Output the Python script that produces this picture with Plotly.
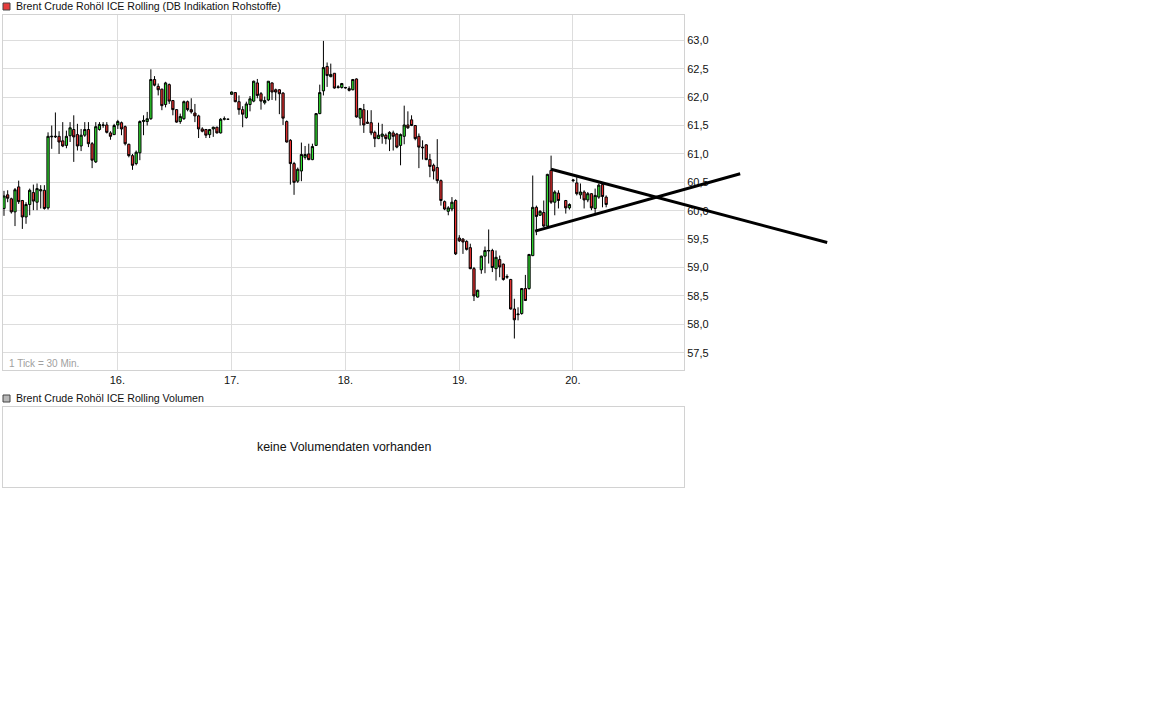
import plotly.graph_objects as go

# Brent Crude, 30-Minuten-Kerzen (ein Slot = ein Tick, None = kein Handel)
opens = [60.04, 60.28, 60.21, 59.98, 60.42, 60.18, 59.89, 60.11, 60.32, 60.15,
         60.35, 60.36, 60.05, 61.30, 61.30, 61.31, 61.23, 61.15, 61.32, 61.43,
         61.34, 61.14, 61.33, 61.43, 61.18, 60.86, 61.43, 61.50, 61.51, 61.37,
         61.34, 61.51, 61.55, 61.48, 61.17, 60.97, 60.83, 61.02, 61.57, 61.57,
         61.62, 62.31, 62.19, 62.14, 61.87, 62.22, 61.94, 61.78, 61.57, 61.62,
         61.92, 61.78, 61.72, 61.67, 61.44, 61.43, 61.34, 61.44, 61.47, 61.37,
         61.61, 61.61, 62.05, 62.08, 61.92, 61.78, 61.64, 61.87, 61.93, 62.25,
         62.06, 61.90, 61.95, 62.25, 62.13, 62.13, 62.07, 61.57, 61.24, 60.83,
         60.52, 60.70, 60.94, 61.00, 60.90, 61.15, 61.71, 62.11, 62.54, 62.36,
         62.42, 62.17, 62.17, 62.16, 62.15, 62.13, 62.32, 61.63, 61.78, 61.56,
         61.55, 61.38, 61.27, 61.31, 61.33, 61.26, 61.37, 61.35, 61.15, 61.31,
         61.51, 61.60, 61.50, 61.31, 61.12, 61.16, 60.90, 60.80, 60.76, 60.53,
         60.16, 59.99, 60.03, 60.18, 59.52, 59.50, 59.46, 59.35, 58.98, 58.48,
         58.96, 59.20, 59.29, 59.30, 58.98, 59.14, 59.06, 58.83, 58.79, 58.27,
         58.17, 58.19, 58.63, 58.63, 59.21, 60.06, 59.92, 59.97, 59.73, 60.71,
         60.15, 60.31, None, 60.18, 60.05, 60.53, 60.49, 60.28, 60.33, 60.19,
         60.30, 60.04, 60.24, 60.46, 60.24]
highs = [60.35, 60.36, 60.23, 60.40, 60.53, 60.19, 60.15, 60.39, 60.46, 60.48,
         60.45, 60.45, 61.38, 61.50, 61.73, 61.40, 61.56, 61.41, 61.56, 61.68,
         61.53, 61.44, 61.56, 61.56, 61.21, 61.56, 61.56, 61.56, 61.56, 61.40,
         61.53, 61.60, 61.57, 61.50, 61.18, 61.00, 61.06, 61.59, 61.68, 61.74,
         62.49, 62.37, 62.24, 62.15, 62.27, 62.24, 61.95, 61.79, 61.71, 61.94,
         61.94, 61.98, 61.88, 61.69, 61.47, 61.44, 61.44, 61.48, 61.48, 61.63,
         61.66, 61.62, 62.10, 62.09, 62.03, 61.84, 61.92, 62.02, 62.29, 62.32,
         62.09, 62.01, 62.28, 62.26, 62.15, 62.14, 62.09, 61.59, 61.26, 60.86,
         60.76, 61.20, 61.14, 61.18, 61.18, 61.72, 62.22, 62.99, 62.61, 62.59,
         62.42, 62.21, 62.25, 62.18, 62.19, 62.32, 62.33, 61.81, 61.88, 61.77,
         61.77, 61.41, 61.55, 61.53, 61.36, 61.40, 61.41, 61.37, 61.36, 61.85,
         61.75, 61.68, 61.51, 61.36, 61.24, 61.17, 61.00, 60.83, 61.26, 60.55,
         60.18, 60.08, 60.24, 60.20, 59.57, 59.52, 59.48, 59.42, 59.01, 58.61,
         59.21, 59.37, 59.67, 59.33, 59.30, 59.21, 59.07, 58.88, 58.80, 58.45,
         58.30, 58.64, 58.87, 59.24, 60.62, 60.09, 60.01, 60.18, 60.65, 60.97,
         60.36, 60.36, None, 60.19, 60.13, 60.56, 60.59, 60.48, 60.36, 60.33,
         60.31, 60.39, 60.48, 60.48, 60.27]
lows = [59.91, 60.15, 59.95, 59.73, 60.12, 59.68, 59.77, 59.92, 60.01, 60.01,
        60.04, 60.02, 60.02, 61.09, 61.28, 61.00, 61.12, 61.10, 61.21, 60.86,
        61.06, 61.05, 61.30, 61.12, 60.75, 60.84, 61.41, 61.46, 61.36, 61.25,
        61.34, 61.44, 61.33, 61.15, 60.94, 60.72, 60.80, 60.89, 61.33, 61.50,
        61.60, 62.19, 62.03, 61.77, 61.82, 61.88, 61.68, 61.55, 61.53, 61.60,
        61.75, 61.71, 61.56, 61.28, 61.38, 61.28, 61.28, 61.30, 61.36, 61.36,
        61.59, 61.60, 62.04, 61.91, 61.69, 61.47, 61.62, 61.75, 61.91, 61.98,
        61.78, 61.87, 61.93, 61.95, 61.94, 61.70, 61.51, 61.20, 60.46, 60.28,
        60.49, 60.52, 60.90, 60.89, 60.89, 61.14, 61.70, 62.03, 62.18, 62.35,
        62.15, 62.15, 62.15, 62.15, 62.10, 62.12, 61.64, 61.50, 61.37, 61.53,
        61.33, 61.12, 61.26, 61.18, 61.17, 61.05, 61.06, 61.10, 60.80, 61.17,
        61.44, 61.49, 61.24, 60.75, 60.90, 60.89, 60.59, 60.55, 60.48, 60.09,
        60.01, 59.92, 59.99, 59.22, 59.45, 59.24, 59.30, 58.97, 58.41, 58.47,
        58.89, 58.90, 59.07, 58.92, 58.77, 58.83, 58.77, 58.80, 58.26, 57.75,
        58.07, 58.17, 58.41, 58.61, 59.20, 59.57, 59.91, 59.71, 59.71, 60.12,
        59.92, 60.04, None, 59.95, 60.02, 60.50, 60.27, 60.21, 60.04, 60.15,
        60.01, 59.92, 60.21, 60.06, 60.06]
closes = [60.26, 60.22, 59.98, 60.37, 60.16, 59.89, 60.11, 60.36, 60.17, 60.39,
          60.37, 60.04, 61.31, 61.31, 61.31, 61.21, 61.14, 61.31, 61.46, 61.30,
          61.14, 61.33, 61.43, 61.18, 60.89, 61.48, 61.52, 61.51, 61.38, 61.31,
          61.50, 61.57, 61.44, 61.18, 60.97, 60.80, 61.03, 61.57, 61.59, 61.62,
          62.31, 62.21, 62.13, 61.85, 62.25, 61.93, 61.78, 61.56, 61.66, 61.92,
          61.78, 61.74, 61.67, 61.44, 61.40, 61.33, 61.43, 61.47, 61.37, 61.61,
          61.62, 61.61, 62.09, 61.92, 61.78, 61.70, 61.88, 61.97, 62.28, 62.03,
          61.93, 61.94, 62.28, 62.09, 62.09, 62.06, 61.63, 61.21, 60.83, 60.50,
          60.73, 60.99, 60.99, 60.90, 61.13, 61.71, 62.08, 62.52, 62.38, 62.40,
          62.16, 62.18, 62.24, 62.17, 62.12, 62.31, 61.65, 61.80, 61.51, 61.54,
          61.37, 61.27, 61.33, 61.35, 61.27, 61.38, 61.31, 61.12, 61.34, 61.51,
          61.46, 61.50, 61.27, 61.12, 61.11, 60.90, 60.78, 60.70, 60.53, 60.18,
          60.03, 60.05, 60.15, 59.24, 59.47, 59.45, 59.32, 58.98, 58.50, 58.60,
          59.20, 59.30, 59.30, 59.00, 59.18, 59.01, 58.79, 58.84, 58.27, 58.08,
          58.18, 58.63, 58.42, 59.23, 60.06, 59.90, 59.99, 59.73, 60.64, 60.15,
          60.33, 60.18, None, 60.05, 60.11, 60.54, 60.30, 60.33, 60.19, 60.30,
          60.05, 60.27, 60.45, 60.25, 60.11]
ticks = list(range(len(opens)))

# Tagesbeginn (in Ticks) und Beschriftung
day_pos = [30.86, 62.03, 92.97, 124.13, 154.92]
day_labels = ["16.", "17.", "18.", "19.", "20."]

# eingezeichnete Trendlinien (Tick, Kurs)
trend_a_x = [149.0, 224.2]
trend_a_y = [60.73, 59.44]
trend_b_x = [144.65, 200.5]
trend_b_y = [59.64, 60.65]

x_range = [-0.27, 185.2]
y_range = [57.196, 63.446]

# Seite / Raender in Pixeln
W, H = 1152, 720
ML, MR, MT, MB = 3, 312, 15, 233


def px(x):
    return (x - ML) / (W - ML - MR)


def py(y):
    return (H - MB - y) / (H - MT - MB)


FONT = "Liberation Sans, Arial, sans-serif"
GRID = "#dddddd"
BORDER = "#d2d2d2"

fig = go.Figure()

fig.add_trace(go.Candlestick(
    x=ticks, open=opens, high=highs, low=lows, close=closes,
    xaxis="x", yaxis="y",
    increasing=dict(line=dict(color="black", width=1), fillcolor="#30e030"),
    decreasing=dict(line=dict(color="black", width=1), fillcolor="#ea3030"),
    showlegend=False,
))

# Trendlinien auf einer breiteren Achse, damit sie ueber den Rand laufen
for tx, ty in [(trend_a_x, trend_a_y), (trend_b_x, trend_b_y)]:
    fig.add_trace(go.Scatter(x=tx, y=ty, mode="lines", xaxis="x2", yaxis="y3",
                             line=dict(color="black", width=3),
                             showlegend=False, hoverinfo="skip"))

# leeres Volumen-Panel
fig.add_trace(go.Scatter(x=[], y=[], xaxis="x3", yaxis="y4", showlegend=False))

main_right = px(684)
x2_hi = x_range[0] + (x_range[1] - x_range[0]) / main_right

fig.update_layout(
    width=W, height=H,
    margin=dict(l=ML, r=MR, t=MT, b=MB),
    paper_bgcolor="white",
    plot_bgcolor="rgba(0,0,0,0)",
    separators=",.",
    boxgap=0.12,
    font=dict(family=FONT, size=11, color="#111"),
    showlegend=False,
    xaxis=dict(domain=[0, main_right], range=x_range, anchor="y",
               tickvals=day_pos, ticktext=day_labels, ticks="",
               showgrid=True, gridcolor=GRID, gridwidth=1, zeroline=False,
               showline=True, mirror=True, linecolor=BORDER, linewidth=1,
               rangeslider=dict(visible=False),
               tickfont=dict(family=FONT, size=11, color="#111")),
    yaxis=dict(domain=[py(370), 1], range=y_range, anchor="x", side="right",
               tick0=57.5, dtick=0.5, tickformat=".1f", ticks="",
               showgrid=True, gridcolor=GRID, gridwidth=1, zeroline=False,
               showline=True, mirror=True, linecolor=BORDER, linewidth=1,
               tickfont=dict(family=FONT, size=11, color="#111")),
    xaxis2=dict(domain=[0, 1], range=[x_range[0], x2_hi], anchor="y3",
                visible=False, fixedrange=True),
    yaxis3=dict(domain=[py(370), 1], range=y_range, anchor="x2",
                visible=False, fixedrange=True),
    xaxis3=dict(domain=[0, main_right], range=[0, 1], anchor="y4",
                showline=True, mirror=True, linecolor=BORDER, linewidth=1,
                showgrid=False, zeroline=False, showticklabels=False, ticks=""),
    yaxis4=dict(domain=[0, py(407)], range=[0, 1], anchor="x3",
                showline=True, mirror=True, linecolor=BORDER, linewidth=1,
                showgrid=False, zeroline=False, showticklabels=False, ticks=""),
    shapes=[
        dict(type="rect", xref="paper", yref="paper",
             x0=px(3), x1=px(10), y0=py(10), y1=py(3),
             fillcolor="#e63c3c", line=dict(color="#444", width=1)),
        dict(type="rect", xref="paper", yref="paper",
             x0=px(3), x1=px(10), y0=py(402), y1=py(395),
             fillcolor="#b8b8b8", line=dict(color="#444", width=1)),
    ],
    annotations=[
        dict(text="Brent Crude Rohöl ICE Rolling (DB Indikation Rohstoffe)",
             xref="paper", yref="paper", x=px(14), y=py(6.5),
             xanchor="left", yanchor="middle", showarrow=False,
             font=dict(family=FONT, size=10.6, color="#111")),
        dict(text="1 Tick = 30 Min.", xref="paper", yref="paper",
             x=px(7), y=py(364), xanchor="left", yanchor="middle",
             showarrow=False, font=dict(family=FONT, size=10, color="#a0a0a0")),
        dict(text="Brent Crude Rohöl ICE Rolling Volumen",
             xref="paper", yref="paper", x=px(14), y=py(398),
             xanchor="left", yanchor="middle", showarrow=False,
             font=dict(family=FONT, size=10.6, color="#111")),
        dict(text="keine Volumendaten vorhanden", xref="paper", yref="paper",
             x=px(344), y=py(447), xanchor="center", yanchor="middle",
             showarrow=False, font=dict(family=FONT, size=12.4, color="#111")),
    ],
)

# Browser-Standardrand (8px) entfernen, damit die Seite pixelgenau sitzt
fig.write_html("out.html", config={"displayModeBar": False},
               post_script="document.body.style.margin='0';")
